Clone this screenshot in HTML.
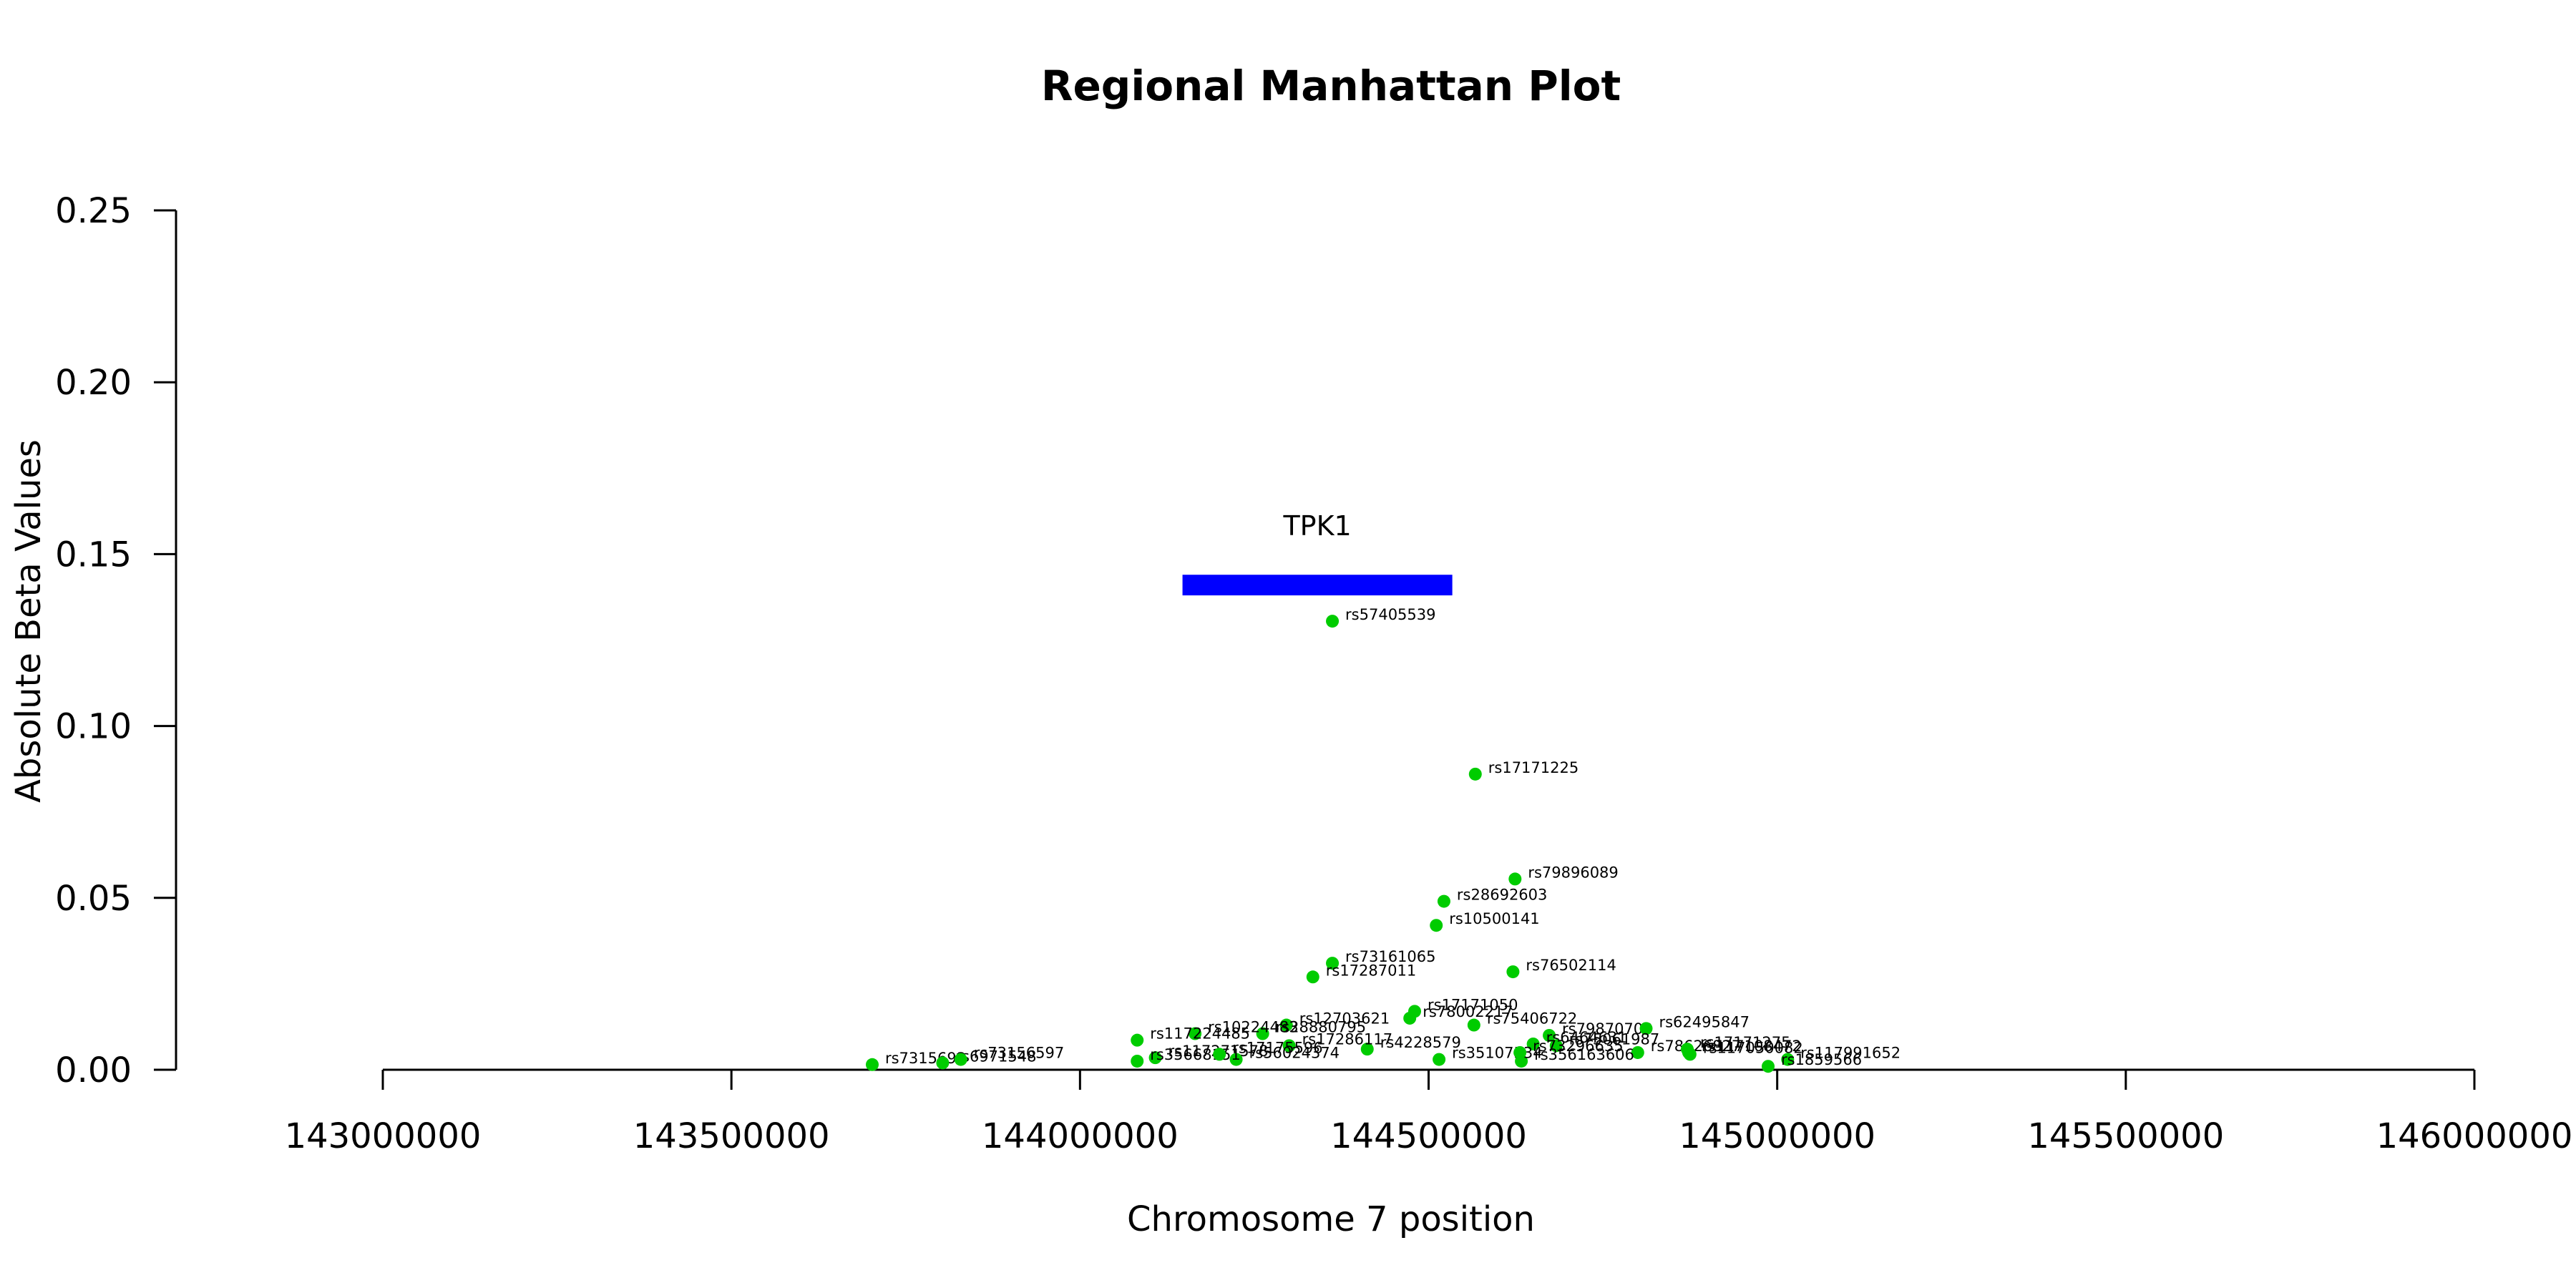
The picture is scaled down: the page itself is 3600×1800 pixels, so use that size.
<!DOCTYPE html>
<html><head><meta charset="utf-8"><style>html,body{margin:0;padding:0;background:#fff}svg{display:block;font-family:"DejaVu Sans","Liberation Sans",sans-serif}</style></head>
<body>
<svg id="chart" width="3600" height="1800" viewBox="0 0 3600 1800" xmlns="http://www.w3.org/2000/svg">
<rect width="3600" height="1800" fill="#fff"/>
<text x="1860" y="140" font-size="58" font-weight="bold" text-anchor="middle">Regional Manhattan Plot</text>
<text x="1860" y="1720" font-size="48" text-anchor="middle">Chromosome 7 position</text>
<text transform="translate(56,868) rotate(-90)" font-size="48" text-anchor="middle">Absolute Beta Values</text>
<g id="axes"></g>
<g id="gene"></g>
<g id="points"></g>
</svg>
<script>
const xTicks = [143000000,143500000,144000000,144500000,145000000,145500000,146000000];
const yTicks = [0,0.05,0.10,0.15,0.20,0.25];
const yTickLabels = ["0.00","0.05","0.10","0.15","0.20","0.25"];
const geneNames = ["TPK1"];
const geneStart = [144147000];
const geneEnd = [144534000];
const snpNames = ["rs57405539","rs17171225","rs79896089","rs28692603","rs10500141","rs73161065","rs17287011","rs76502114","rs17171050","rs78002217","rs75406722","rs79870708","rs62495847","rs6464631","rs75061987","rs78626827","rs17171275","rs117108472","rs117050082","rs117991652","rs1859566","rs356163606","rs35107534","rs73296635","rs4228579","rs17286117","rs12703621","rs28880795","rs10224483","rs117224485","rs117271578","rs56024374","rs35668151","rs17175596","rs7315693","rs6971548","rs73156597"];
const snpPos = [144362000,144567000,144624000,144522000,144511000,144362000,144334000,144621000,144480000,144473000,144565000,144673000,144812000,144650000,144683000,144800000,144871000,144873000,144875000,145015000,144987000,144633000,144515000,144631000,144412000,144300000,144296000,144262000,144165000,144082000,144108000,144224000,144082000,144200000,143702000,143803000,143829000];
const snpVal = [0.1305,0.086,0.0555,0.049,0.042,0.031,0.027,0.0285,0.017,0.015,0.013,0.010,0.012,0.0075,0.007,0.005,0.006,0.005,0.0045,0.003,0.001,0.0025,0.003,0.005,0.006,0.007,0.013,0.0105,0.0105,0.0086,0.0035,0.003,0.0025,0.0045,0.0015,0.002,0.003];

const NS="http://www.w3.org/2000/svg";
const X0=535,X1=3458,Y0=1495,Y1=294;
function xs(p){return X0+(p-143000000)/(146000000-143000000)*(X1-X0);}
function ys(v){return Y0-(v/0.25)*(Y0-Y1);}
function mk(tag,attrs,parent){const e=document.createElementNS(NS,tag);for(const k in attrs)e.setAttribute(k,attrs[k]);parent.appendChild(e);return e;}
const axes=document.getElementById('axes');
let l=mk('line',{x1:246,y1:ys(0),x2:246,y2:ys(0.25),stroke:'#000','stroke-width':3},axes);


yTicks.forEach((v,i)=>{
  const t=mk('line',{x1:215,x2:246,y1:ys(v),y2:ys(v),stroke:'#000','stroke-width':3},axes);
  
  
  const tx=mk('text',{x:184,y:ys(v)+17,'font-size':48,'text-anchor':'end'},axes);
  tx.textContent=yTickLabels[i];
  
  
});
l=mk('line',{x1:xs(xTicks[0]),x2:xs(xTicks[xTicks.length-1]),y1:Y0,y2:Y0,stroke:'#000','stroke-width':3},axes);


xTicks.forEach(p=>{
  const t=mk('line',{x1:xs(p),x2:xs(p),y1:Y0,y2:Y0+28,stroke:'#000','stroke-width':3},axes);
  
  
  const tx=mk('text',{x:xs(p),y:1604,'font-size':48,'text-anchor':'middle'},axes);
  tx.textContent=String(p);
  
  
});
const gene=document.getElementById('gene');
geneNames.forEach((g,i)=>{
  const r=mk('rect',{x:xs(geneStart[i]),y:ys(0.144),width:xs(geneEnd[i])-xs(geneStart[i]),height:ys(0.138)-ys(0.144),fill:'#0000ff'},gene);
  
  
  const t=mk('text',{x:(xs(geneStart[i])+xs(geneEnd[i]))/2,y:748,'font-size':38,'text-anchor':'middle'},gene);
  t.textContent=g;
  
  
});
const pts=document.getElementById('points');
snpNames.forEach((n,i)=>{
  const cx=xs(snpPos[i]),cy=ys(snpVal[i]);
  const c=mk('circle',{cx:cx,cy:cy,r:9,fill:'#00cc00'},pts);
  
  
  const t=mk('text',{x:cx+18,y:cy-2,'font-size':21},pts);
  t.textContent=n;
  
  
});
</script>
</body></html>
